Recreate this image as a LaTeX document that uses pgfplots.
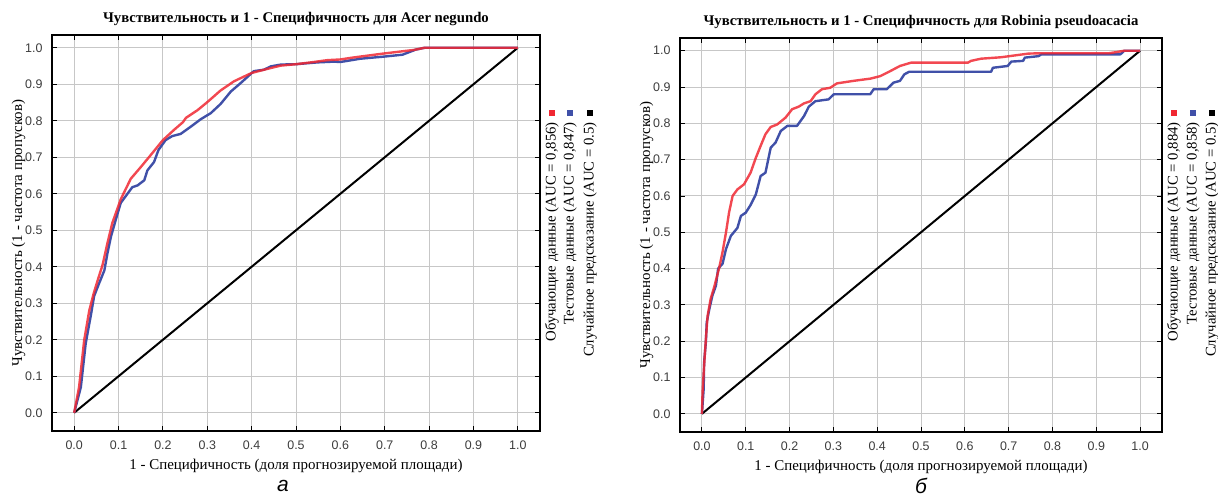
\documentclass[border=0pt]{standalone}
\usepackage{fontspec}
\setmainfont{Liberation Serif}
\newfontfamily\arial{Liberation Sans}
\usepackage{pgfplots}
\pgfplotsset{compat=1.18}

\definecolor{rocred}{RGB}{240,40,50}
\definecolor{rocblue}{RGB}{64,80,168}
\definecolor{tickgray}{RGB}{60,60,60}

\pgfplotsset{
  roc/.style={
    scale only axis,
    xmin=-0.05, xmax=1.05, ymin=-0.05, ymax=1.035,
    xtick={0,0.1,0.2,0.3,0.4,0.5,0.6,0.7,0.8,0.9,1},
    ytick={0,0.1,0.2,0.3,0.4,0.5,0.6,0.7,0.8,0.9,1},
    grid=major,
    grid style={black!22, line width=1bp},
    axis line style={black, line width=1.2bp},
    tick align=inside,
    major tick length=5bp,
    tick style={black, line width=0.9bp},
    ticklabel style={font=\arial\fontsize{12.5}{14}\selectfont, text=tickgray},
    xticklabel style={yshift=-6bp},
    yticklabel style={xshift=-6bp},
    /pgf/number format/.cd, fixed, fixed zerofill, precision=1, assume math mode=true,
    /pgfplots/.cd,
    title style={font=\bfseries\fontsize{14.8}{16}\selectfont},
    label style={font=\fontsize{15}{17}\selectfont},
    xlabel style={yshift=-3bp},
    ylabel style={yshift=-7bp},
    xlabel={1 - Специфичность (доля прогнозируемой площади)},
    ylabel={Чувствительность (1 - частота пропусков)},
  },
  curve/.style={line width=2.4bp, line join=round},
  diag/.style={black, line width=2bp},
}

\begin{document}
\begin{tikzpicture}[x=1bp,y=1bp]
\useasboundingbox (0,0) rectangle (1218,-499);

% ---- а: Acer negundo
\begin{axis}[roc, at={(52bp,-431bp)}, anchor=south west, width=488bp, height=396bp,
  title={Чувствительность и 1 - Специфичность для Acer negundo}]
\addplot[diag] coordinates {(0,0) (1,1)};
\addplot[curve, rocblue] coordinates {
(0,0) (0.015,0.07) (0.026,0.19) (0.038,0.27) (0.045,0.32) (0.056,0.354)
(0.068,0.39) (0.075,0.437) (0.083,0.483) (0.094,0.53) (0.105,0.575)
(0.131,0.618) (0.143,0.623) (0.158,0.637) (0.165,0.664) (0.18,0.687)
(0.19,0.72) (0.206,0.747) (0.221,0.758) (0.24,0.764) (0.263,0.784)
(0.285,0.804) (0.308,0.821) (0.33,0.846) (0.353,0.88) (0.375,0.903)
(0.405,0.936) (0.428,0.94) (0.443,0.949) (0.466,0.954) (0.5,0.955)
(0.549,0.96) (0.585,0.962) (0.6,0.961) (0.645,0.97) (0.70,0.976)
(0.74,0.981) (0.77,0.995) (0.79,1.0) (1,1)};
\addplot[curve, rocred, opacity=0.85] coordinates {
(0,0) (0.011,0.07) (0.0225,0.198) (0.034,0.28) (0.044,0.327) (0.053,0.363)
(0.064,0.405) (0.075,0.465) (0.086,0.52) (0.105,0.585) (0.1275,0.641)
(0.15,0.673) (0.1725,0.706) (0.2,0.747) (0.225,0.775) (0.245,0.796)
(0.252,0.808) (0.278,0.829) (0.30,0.851) (0.33,0.883) (0.36,0.908)
(0.40,0.931) (0.435,0.942) (0.465,0.951) (0.50,0.955) (0.54,0.961)
(0.57,0.966) (0.60,0.968) (0.627,0.973) (0.696,0.984) (0.765,0.994)
(0.79,1.0) (1,1)};
\end{axis}

% ---- б: Robinia pseudoacacia
\begin{axis}[roc, at={(680bp,-432bp)}, anchor=south west, width=482bp, height=394bp,
  title={Чувствительность и 1 - Специфичность для Robinia pseudoacacia}]
\addplot[diag] coordinates {(0,0) (1,1)};
\addplot[curve, rocblue] coordinates {
(0,0) (0.004,0.069) (0.005,0.142) (0.009,0.197) (0.011,0.252) (0.017,0.289)
(0.024,0.326) (0.032,0.353) (0.037,0.4) (0.047,0.413) (0.055,0.454)
(0.066,0.49) (0.081,0.512) (0.089,0.545) (0.1,0.554) (0.111,0.575)
(0.123,0.604) (0.134,0.655) (0.145,0.664) (0.157,0.733) (0.168,0.747)
(0.18,0.779) (0.195,0.793) (0.217,0.793) (0.233,0.82) (0.244,0.846)
(0.259,0.861) (0.289,0.866) (0.301,0.88) (0.384,0.88) (0.392,0.894)
(0.422,0.894) (0.437,0.912) (0.452,0.917) (0.462,0.935) (0.473,0.942)
(0.66,0.942) (0.664,0.953) (0.698,0.958) (0.706,0.97) (0.733,0.972)
(0.737,0.981) (0.768,0.985) (0.775,0.99) (0.955,0.99) (0.964,1.0) (1,1)};
\addplot[curve, rocred, opacity=0.85] coordinates {
(0,0) (0.0015,0.06) (0.005,0.133) (0.009,0.206) (0.013,0.27) (0.02,0.317)
(0.028,0.349) (0.039,0.4) (0.047,0.445) (0.055,0.5) (0.062,0.555)
(0.07,0.6) (0.081,0.618) (0.096,0.632) (0.111,0.664) (0.123,0.705)
(0.134,0.738) (0.145,0.77) (0.157,0.79) (0.172,0.797) (0.191,0.816)
(0.206,0.839) (0.221,0.846) (0.233,0.855) (0.248,0.861) (0.259,0.88)
(0.274,0.894) (0.293,0.898) (0.308,0.91) (0.346,0.917) (0.384,0.923)
(0.407,0.93) (0.43,0.944) (0.452,0.958) (0.477,0.967) (0.607,0.967)
(0.614,0.972) (0.637,0.978) (0.683,0.982) (0.714,0.987) (0.745,0.992)
(0.772,0.993) (0.929,0.993) (0.945,0.996) (0.964,1.0) (1,1)};
\end{axis}

% ---- rotated legends
\tikzset{legtxt/.style={rotate=90, anchor=east, inner sep=0pt, font=\fontsize{14.8}{16}\selectfont}}
\foreach \x/\c in {552/rocred,570/rocblue,590/black,1174/rocred,1193/rocblue,1212/black}
  \fill[\c] (\x-3,-110) rectangle (\x+3,-116);
\node[legtxt] at (552,-122) {Обучающие данные (AUC = 0,856)};
\node[legtxt] at (570,-122) {Тестовые данные (AUC = 0,847)};
\node[legtxt] at (590,-122) {Случайное предсказание (AUC = 0.5)};
\node[legtxt] at (1174,-122) {Обучающие данные (AUC = 0,884)};
\node[legtxt] at (1193,-122) {Тестовые данные (AUC = 0,858)};
\node[legtxt] at (1212,-122) {Случайное предсказание (AUC = 0.5)};

% ---- panel letters
\node[font=\arial\itshape\fontsize{21}{24}\selectfont] at (283,-486) {а};
\node[font=\arial\itshape\fontsize{21}{24}\selectfont] at (921,-486) {б};
\end{tikzpicture}
\end{document}
